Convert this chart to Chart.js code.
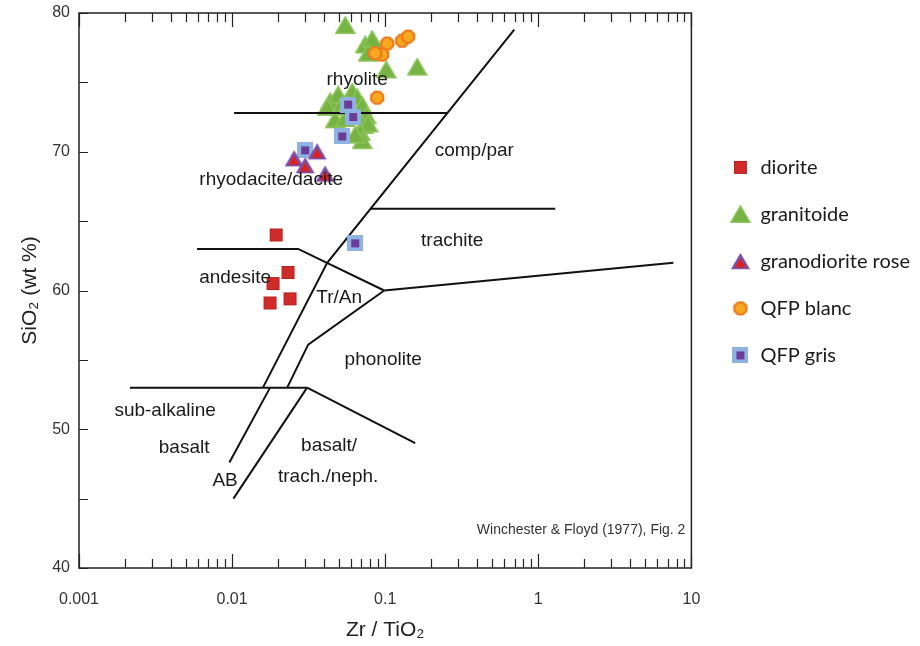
<!DOCTYPE html>
<html>
<head>
<meta charset="utf-8">
<script src="https://cdn.jsdelivr.net/npm/chart.js@4.4.1/dist/chart.umd.min.js"></script>
<style>
  html, body { margin: 0; padding: 0; background: #fff; }
  #wrap { width: 920px; height: 646px; }
</style>
</head>
<body>
<div id="wrap"><canvas id="tasChart"></canvas></div>
<script>
// samples, Zr/TiO2 and SiO2 (wt %)
const dioriteZr = [0.0194, 0.0232, 0.0185, 0.0239, 0.0177];
const dioriteSi = [64.0, 61.3, 60.5, 59.4, 59.1];

const granitoideZr = [0.0548, 0.0740, 0.0822, 0.0774, 0.1016, 0.1619, 0.0437, 0.0493, 0.0609, 0.0656, 0.0418,
                      0.0508, 0.0565, 0.0708, 0.0752, 0.0471, 0.0548, 0.0718, 0.0774, 0.0687, 0.0708, 0.0637];
const granitoideSi = [79.1, 77.7, 78.1, 77.1, 75.9, 76.1, 73.6, 74.1, 74.3, 73.9, 73.2,
                      73.2, 73.4, 73.3, 72.6, 72.3, 72.4, 71.9, 72.0, 71.4, 70.8, 71.2];

const granodioriteZr = [0.0254, 0.0359, 0.0300, 0.0405];
const granodioriteSi = [69.5, 70.0, 69.0, 68.4];

const qfpBlancZr = [0.1031, 0.0955, 0.0860, 0.1291, 0.1413, 0.0887];
const qfpBlancSi = [77.8, 77.0, 77.1, 78.0, 78.3, 73.9];

const qfpGrisZr = [0.0573, 0.0618, 0.0524, 0.0300, 0.0637];
const qfpGrisSi = [73.4, 72.5, 71.1, 70.1, 63.4];

// field boundaries (Winchester & Floyd 1977), [Zr/TiO2, SiO2]
const boundaries = [
  [[0.0103, 72.8], [0.254, 72.8]],
  [[0.697, 78.8], [0.0418, 62.0], [0.0159, 53.0]],
  [[0.0177, 53.0], [0.0096, 47.6]],
  [[0.080, 65.9], [1.29, 65.9]],
  [[0.0059, 63.0], [0.0270, 63.0], [0.0985, 60.0]],
  [[0.0985, 60.0], [7.63, 62.0]],
  [[0.0985, 60.0], [0.0314, 56.1], [0.0229, 53.0]],
  [[0.00215, 53.0], [0.0309, 53.0]],
  [[0.0309, 53.0], [0.157, 49.0]],
  [[0.0309, 53.0], [0.0102, 45.0]]
];

const xDecades = [0.001, 0.01, 0.1, 1, 10];
const xTickLabels = ['0.001', '0.01', '0.1', '1', '10'];
const yTickLabels = ['40', '50', '60', '70', '80'];

// field names, placed in data coordinates
const fieldLabels = [
  { text: 'rhyolite', x: 0.0656, y: 75.2 },
  { text: 'comp/par', x: 0.382, y: 70.1 },
  { text: 'rhyodacite/dacite', x: 0.0180, y: 68.0 },
  { text: 'trachite', x: 0.274, y: 63.6 },
  { text: 'andesite', x: 0.01046, y: 60.9 },
  { text: 'Tr/An', x: 0.050, y: 59.5 },
  { text: 'phonolite', x: 0.097, y: 55.0 },
  { text: 'sub-alkaline', x: 0.00365, y: 51.3 },
  { text: 'basalt', x: 0.00486, y: 48.7 },
  { text: 'AB', x: 0.0090, y: 46.3 },
  { text: 'basalt/', x: 0.0430, y: 48.8 },
  { text: 'trach./neph.', x: 0.0424, y: 46.6 }
];

function zip(xs, ys) {
  return xs.map((v, i) => ({ x: v, y: ys[i] }));
}

function marker(w, h, paint) {
  const c = document.createElement('canvas');
  c.width = w; c.height = h;
  paint(c.getContext('2d'), w, h);
  return c;
}

function tri(ctx, cx, cy, r) {
  ctx.beginPath();
  ctx.moveTo(cx, cy - r);
  ctx.lineTo(cx + r * 0.95, cy + r * 0.62);
  ctx.lineTo(cx - r * 0.95, cy + r * 0.62);
  ctx.closePath();
}

const mkDiorite = marker(15, 15, (ctx) => {
  ctx.fillStyle = '#cf2b28';
  ctx.fillRect(1, 1, 13, 13);
  ctx.strokeStyle = '#b8231f';
  ctx.lineWidth = 1;
  ctx.strokeRect(1.5, 1.5, 12, 12);
});

const mkGranitoide = marker(21, 19, (ctx) => {
  tri(ctx, 10.5, 11, 10);
  ctx.fillStyle = '#77b343';
  ctx.fill();
  ctx.strokeStyle = '#8cc45a';
  ctx.lineWidth = 1.5;
  ctx.stroke();
});

const mkGranodiorite = marker(21, 19, (ctx) => {
  tri(ctx, 10.5, 11, 10);
  ctx.fillStyle = '#7b4ea3';
  ctx.fill();
  tri(ctx, 10.5, 12, 5.5);
  ctx.fillStyle = '#e0201f';
  ctx.fill();
});

const mkQfpBlanc = marker(16, 16, (ctx) => {
  ctx.beginPath();
  for (let i = 0; i < 8; i++) {
    const a = Math.PI / 8 + i * Math.PI / 4;
    const px = 8 + 6.5 * Math.cos(a), py = 8 + 6.5 * Math.sin(a);
    if (i === 0) ctx.moveTo(px, py); else ctx.lineTo(px, py);
  }
  ctx.closePath();
  ctx.fillStyle = '#f7a81e';
  ctx.fill();
  ctx.strokeStyle = '#eb7a1c';
  ctx.lineWidth = 2.2;
  ctx.stroke();
});

const mkQfpGris = marker(16, 16, (ctx) => {
  ctx.fillStyle = '#8fb3e0';
  ctx.fillRect(0, 0, 16, 16);
  ctx.fillStyle = '#6a3c98';
  ctx.fillRect(4, 4, 8, 8);
});

const lineSets = boundaries.map((seg, i) => ({
  type: 'line',
  label: '_b' + i,
  data: seg.map(p => ({ x: p[0], y: p[1] })),
  borderColor: '#111',
  borderWidth: 2,
  pointRadius: 0,
  fill: false,
  tension: 0,
  order: 3
}));

const frameTicks = {
  id: 'frameTicks',
  afterDraw(chart) {
    const { ctx, chartArea: a, scales: { x, y } } = chart;
    ctx.save();
    ctx.strokeStyle = '#222';
    ctx.lineWidth = 1.5;
    ctx.strokeRect(a.left, a.top, a.right - a.left, a.bottom - a.top);
    ctx.lineWidth = 1.2;
    ctx.beginPath();
    x.ticks.forEach(t => {
      const px = Math.round(x.getPixelForValue(t.value)) + 0.5;
      const major = xDecades.some(d => Math.abs(d - t.value) < d * 1e-6);
      const len = major ? 14 : 9;
      ctx.moveTo(px, a.bottom); ctx.lineTo(px, a.bottom - len);
      ctx.moveTo(px, a.top); ctx.lineTo(px, a.top + len);
    });
    y.ticks.forEach(t => {
      const py = Math.round(y.getPixelForValue(t.value)) + 0.5;
      ctx.moveTo(a.left, py); ctx.lineTo(a.left + 9, py);
    });
    ctx.stroke();
    ctx.restore();
  },
  afterDatasetsDraw(chart) {
    const { ctx, chartArea: a, scales: { x, y } } = chart;
    ctx.save();
    ctx.fillStyle = '#1a1a1a';
    ctx.font = '19px "Liberation Sans", Arial, sans-serif';
    ctx.textAlign = 'center';
    ctx.textBaseline = 'middle';
    fieldLabels.forEach(l => {
      ctx.fillText(l.text, x.getPixelForValue(l.x), y.getPixelForValue(l.y));
    });
    ctx.font = '14px "Liberation Sans", Arial, sans-serif';
    ctx.fillStyle = '#333';
    ctx.textAlign = 'right';
    ctx.fillText('Winchester & Floyd (1977), Fig. 2', a.right - 6, a.bottom - 38);
    ctx.restore();
  }
};

new Chart(document.getElementById('tasChart'), {
  type: 'scatter',
  data: {
    datasets: [
      { label: 'diorite', data: zip(dioriteZr, dioriteSi), pointStyle: mkDiorite, order: 1 },
      { label: 'granitoide', data: zip(granitoideZr, granitoideSi), pointStyle: mkGranitoide, order: 5 },
      { label: 'granodiorite rose', data: zip(granodioriteZr, granodioriteSi), pointStyle: mkGranodiorite, order: 2 },
      { label: 'QFP blanc', data: zip(qfpBlancZr, qfpBlancSi), pointStyle: mkQfpBlanc, order: 1 },
      { label: 'QFP gris', data: zip(qfpGrisZr, qfpGrisSi), pointStyle: mkQfpGris, order: 2 },
      ...lineSets
    ]
  },
  options: {
    responsive: true,
    maintainAspectRatio: false,
    animation: false,
    events: [],
    layout: { padding: { left: 18, top: 13, right: 0, bottom: 3 } },
    scales: {
      x: {
        type: 'logarithmic',
        min: 0.001,
        max: 10,
        afterBuildTicks: (scale) => {
          const ticks = [];
          xDecades.forEach((d, i) => {
            ticks.push({ value: d });
            if (i < xDecades.length - 1) {
              for (let k = 2; k <= 9; k++) ticks.push({ value: d * k });
            }
          });
          scale.ticks = ticks;
        },
        afterFit: (scale) => { scale.height = 75; },
        grid: { display: false, drawTicks: false },
        border: { display: false },
        ticks: {
          autoSkip: false,
          maxRotation: 0,
          padding: 22,
          color: '#333',
          font: { family: '"Liberation Sans", Arial, sans-serif', size: 16 },
          callback: (v) => {
            const i = xDecades.findIndex(d => Math.abs(d - v) < d * 1e-6);
            return i >= 0 ? xTickLabels[i] : '';
          }
        },
        title: {
          display: true,
          text: 'Zr / TiO₂',
          color: '#222',
          font: { family: '"Liberation Sans", Arial, sans-serif', size: 21 },
          padding: { top: 8, bottom: 0 }
        }
      },
      y: {
        min: 40,
        max: 80,
        afterFit: (scale) => {
          scale.width = 61;
          scale.paddingTop = 0;
          scale.paddingBottom = 0;
        },
        grid: { display: false, drawTicks: false },
        border: { display: false },
        ticks: {
          stepSize: 5,
          padding: 9,
          color: '#333',
          font: { family: '"Liberation Sans", Arial, sans-serif', size: 16 },
          callback: (v) => (v % 10 === 0 ? yTickLabels[(v - 40) / 10] : '')
        },
        title: {
          display: true,
          text: 'SiO₂ (wt %)',
          color: '#222',
          font: { family: '"Liberation Sans", Arial, sans-serif', size: 21 },
          padding: { top: 0, bottom: 8 }
        }
      },
      gap: {
        position: 'right',
        display: true,
        grid: { display: false, drawTicks: false },
        border: { display: false },
        ticks: { display: false },
        afterFit: (scale) => {
          scale.width = 12;
          scale.paddingTop = 0;
          scale.paddingBottom = 0;
        }
      }
    },
    plugins: {
      tooltip: { enabled: false },
      legend: {
        position: 'right',
        align: 'start',
        maxWidth: 320,
        title: { display: true, text: ' ', font: { size: 12 }, padding: { top: 103, bottom: 0 } },
        labels: {
          usePointStyle: true,
          padding: 27,
          color: '#1a1a1a',
          font: { family: 'Lato, "Open Sans", sans-serif', size: 20 },
          sort: (a, b) => a.datasetIndex - b.datasetIndex,
          filter: (item) => !item.text.startsWith('_')
        }
      }
    }
  },
  plugins: [frameTicks]
});
</script>
</body>
</html>
